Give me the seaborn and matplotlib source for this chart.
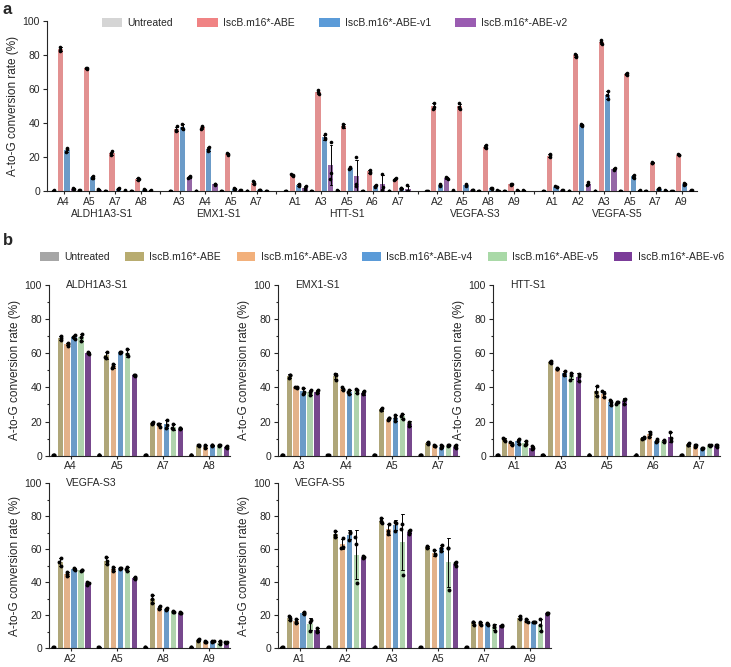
import numpy as np
import pandas as pd
import matplotlib
matplotlib.use("Agg")
import matplotlib.pyplot as plt
import matplotlib.ticker as ticker
import matplotlib.transforms as mtransforms
from matplotlib.patches import Patch
import seaborn as sns

# ---- data (3 replicates per bar) ----
GENES = ["ALDH1A3-S1", "EMX1-S1", "HTT-S1", "VEGFA-S3", "VEGFA-S5"]
SITES = [["A4", "A5", "A7", "A8"],
         ["A3", "A4", "A5", "A7"],
         ["A1", "A3", "A5", "A6", "A7"],
         ["A2", "A5", "A8", "A9"],
         ["A1", "A2", "A3", "A5", "A7", "A9"]]

A_GROUPS = ["Untreated", "IscB.m16*-ABE", "IscB.m16*-ABE-v1", "IscB.m16*-ABE-v2"]
A_COLORS = ["#d5d5d5", "#f08384", "#5b9bd8", "#9a5cb1"]

A_UNTREATED = [(0.3, 0.4, 0.5), (0.4, 0.5, 0.6), (0.2, 0.3, 0.4), (0.2, 0.3, 0.4),
               (0.2, 0.3, 0.4), (0.2, 0.3, 0.4), (0.2, 0.3, 0.4), (0.2, 0.3, 0.4),
               (0.2, 0.3, 0.4), (0.2, 0.3, 0.4), (0.3, 0.4, 0.5), (0.2, 0.3, 0.4), (0.2, 0.3, 0.4),
               (0.2, 0.3, 0.4), (0.3, 0.4, 0.5), (0.2, 0.3, 0.4), (0.2, 0.3, 0.4),
               (0.2, 0.3, 0.4), (0.2, 0.3, 0.4), (0.2, 0.3, 0.4), (0.2, 0.3, 0.4), (0.2, 0.3, 0.4), (0.2, 0.3, 0.4)]
A_ABE = [(82.5, 83, 84.5), (71.8, 72.2, 72.5), (21, 22.5, 23.5), (6.5, 7, 7.5),
         (35.5, 36, 38), (36.5, 37.5, 38.5), (21.5, 22, 22.5), (4.5, 5, 5.8),
         (8.8, 9.5, 10), (57, 58, 59.5), (37.5, 38, 39.5), (11, 11.5, 12.5), (6.5, 7, 7.8),
         (48.5, 49.5, 52), (48.5, 49.5, 51.5), (25.5, 26.2, 27), (3.9, 4.1, 4.3),
         (20, 21, 21.7), (79, 79.5, 80.5), (86.5, 87.5, 88.5), (68.3, 68.8, 69.3), (16.4, 16.8, 17.2), (21, 21.5, 22)]
A_V1 = [(23, 24.5, 25.5), (7.5, 8, 9), (1.3, 1.5, 1.7), (0.8, 1, 1.2),
        (36.5, 37, 39.5), (23.5, 24.5, 26), (1.3, 1.6, 1.9), (0.6, 0.8, 1),
        (3, 3.5, 4.3), (30.5, 31, 33.5), (13, 13.5, 14.5), (2.8, 3.2, 3.5), (1.5, 1.8, 2.2),
        (3.2, 3.7, 4.2), (3.2, 3.7, 4.3), (1.5, 1.8, 2.1), (0.3, 0.4, 0.5),
        (2.3, 2.7, 3.1), (38.5, 39, 39.5), (54, 56.5, 58.5), (8, 8.6, 9.5), (1.1, 1.4, 1.8), (3.8, 4.3, 5)]
A_V2 = [(1.3, 1.5, 1.7), (0.8, 1, 1.2), (0.3, 0.4, 0.5), (0.3, 0.4, 0.5),
        (7.5, 8.5, 9), (3.5, 4, 4.5), (0.4, 0.5, 0.6), (0.2, 0.3, 0.4),
        (0.8, 1.8, 3), (7.2, 10.5, 29), (3, 4, 20), (0.5, 2.5, 10), (0.2, 0.4, 3.6),
        (7, 7.5, 8.3), (0.6, 0.8, 1), (0.3, 0.4, 0.5), (0.3, 0.4, 0.5),
        (0.4, 0.6, 0.8), (3.5, 4.3, 5.3), (12.5, 13, 13.5), (0.3, 0.4, 0.5), (0.3, 0.4, 0.5), (0.4, 0.5, 0.6)]

B_GROUPS = ["Untreated", "IscB.m16*-ABE", "IscB.m16*-ABE-v3",
            "IscB.m16*-ABE-v4", "IscB.m16*-ABE-v5", "IscB.m16*-ABE-v6"]
B_COLORS = ["#a6a6a6", "#b8ac70", "#f2b07b", "#5b9bd8", "#a9d9a7", "#7b3c99"]

B_UNTREATED = [(0.2, 0.3, 0.4)] * 23
B_ABE = [(68, 69, 70), (57.5, 58, 61), (18.5, 19, 19.5), (5.5, 6, 6),
         (45.5, 47, 47.5), (44.5, 47, 48), (26.5, 27, 28), (7, 7.5, 8),
         (8.5, 9.5, 10.5), (54.5, 55, 55.5), (35, 37.5, 41), (10, 10.5, 11), (6, 6.5, 7.5),
         (50, 52.5, 54.5), (51, 53, 55), (27.5, 30, 32), (4, 5, 5.5),
         (17, 18, 19.5), (67.5, 68.5, 71), (76, 77, 79), (60.5, 61.5, 62), (14, 15.5, 15.5), (17.5, 18.5, 19.5)]
B_V3 = [(64.5, 65.5, 66), (51.5, 52.5, 54), (17, 18.5, 18.5), (4.5, 5.5, 6),
        (39.5, 40, 40.5), (38.5, 39, 40), (21, 22, 22), (5.5, 5.5, 6),
        (6.5, 7, 8), (50.5, 51, 51.5), (34.5, 36.5, 38), (11, 13, 14), (5, 6, 6.5),
        (44, 45, 46), (47, 48, 49), (23.5, 24.5, 25.5), (3.5, 3.5, 4),
        (15, 16, 17.5), (61, 61.5, 66.5), (69.5, 71, 75.5), (56.5, 57, 59.5), (14, 15, 15.5), (16, 16.5, 17.5)]
B_V4 = [(68.5, 69.5, 70.5), (60, 60.5, 61), (16.5, 18, 21), (5.5, 6, 6.5),
        (36, 37.5, 39.5), (36, 37.5, 38.5), (20.5, 22, 24), (4.5, 5.5, 6),
        (7, 8.5, 9.5), (47, 48, 49.5), (29.5, 31.5, 32.5), (8, 8.5, 9.5), (4, 4.5, 4.5),
        (47.5, 48, 48.5), (48, 48.5, 48.5), (23, 23.5, 24), (3.5, 4, 4.5),
        (20.5, 21.5, 22), (65.5, 70, 70.5), (71, 76, 76.5), (59, 60.5, 62.5), (14, 14.5, 15), (15.5, 15.5, 16)]
B_V5 = [(67, 69.5, 71.5), (58.5, 59.5, 62.5), (15.5, 16.5, 18.5), (5.5, 6, 6.5),
        (35.5, 37.5, 38.5), (36.5, 38.5, 39), (21.5, 23, 24.5), (5.5, 6, 6),
        (6.5, 7, 8.5), (44.5, 47, 48.5), (30.5, 31.5, 31.5), (8, 8.5, 9), (5.5, 6, 6),
        (47, 47.5, 47.5), (47, 48, 49), (22, 22, 22.5), (2.5, 3.5, 4),
        (10.5, 16, 17), (39.5, 63, 67.5), (44.5, 72.5, 75.5), (35, 60.5, 61), (10.5, 13, 14), (10.5, 14, 17.5)]
B_V6 = [(59.5, 60, 61), (46.5, 47, 47.5), (15.5, 16, 16), (4.5, 5, 5.5),
        (36.5, 37.5, 38.5), (36, 36.5, 38), (17.5, 19, 20), (4.5, 5.5, 6),
        (4, 4.5, 5.5), (43.5, 46.5, 48), (30, 32.5, 33.5), (8.5, 10.5, 14), (5, 6, 6.5),
        (38.5, 39.5, 40), (42, 42.5, 43), (21, 21.5, 22), (3, 3.5, 3.5),
        (10, 10.5, 12), (54.5, 55, 56), (69.5, 71, 71.5), (50, 51.5, 52), (13.5, 13.5, 14), (20.5, 21, 21.5)]

A_REPS = [A_UNTREATED, A_ABE, A_V1, A_V2]
B_REPS = [B_UNTREATED, B_ABE, B_V3, B_V4, B_V5, B_V6]

np.random.seed(2)
sns.set_style("ticks")
plt.rcParams["font.family"] = ["Liberation Sans", "DejaVu Sans"]
plt.rcParams["axes.linewidth"] = 0.8
plt.rcParams["xtick.major.width"] = 0.8
plt.rcParams["ytick.major.width"] = 0.8
plt.rcParams["xtick.minor.width"] = 0.8
plt.rcParams["ytick.minor.width"] = 0.8
plt.rcParams["xtick.major.size"] = 2.5
plt.rcParams["ytick.major.size"] = 3
plt.rcParams["xtick.minor.size"] = 2.5
plt.rcParams["ytick.minor.size"] = 1.8
plt.rcParams["xtick.major.pad"] = 1.5
plt.rcParams["ytick.major.pad"] = 2

fig = plt.figure(figsize=(7.31, 6.67), dpi=100)


def draw_bars(ax, df, groups, colors, dot):
    sns.barplot(data=df, x="pos", y="val", hue="group", hue_order=groups,
                palette=colors, native_scale=True, dodge=False, errorbar="sd",
                capsize=0.4, err_kws={"linewidth": 0.7, "color": "black"},
                width=0.8, linewidth=0, legend=False, ax=ax, orient="v")
    sns.stripplot(data=df, x="pos", y="val", native_scale=True, color="black",
                  size=dot, jitter=0.15, linewidth=0, ax=ax, orient="v", zorder=5)


# ---- panel a ----
rows, centers, labels, seps, gene_mid = [], [], [], [], []
pos, k = 0, 0
for g, sites in enumerate(SITES):
    start = pos
    for s in sites:
        for h, reps in enumerate(A_REPS):
            for v in reps[k]:
                rows.append((pos + h, A_GROUPS[h], v))
        centers.append(pos + 1.5)
        labels.append(s)
        pos += 4
        k += 1
    gene_mid.append((start + pos - 1) / 2)
    if g < len(SITES) - 1:
        seps.append(pos + 0.5)
        pos += 2
last = pos - 1
dfa = pd.DataFrame(rows, columns=["pos", "group", "val"])

axa = fig.add_axes([0.0643, 0.7132, 0.8887, 0.2558])
draw_bars(axa, dfa, A_GROUPS, A_COLORS, 2.6)
axa.set_xlim(-1.1, last + 0.85)
axa.set_ylim(0, 100)
axa.set_yticks(range(0, 101, 20))
axa.set_xticks(centers, labels)
axa.set_xticks(seps, minor=True)
axa.tick_params(labelsize=7.5)
axa.set_xlabel("")
axa.set_ylabel("A-to-G conversion rate (%)", fontsize=8.5, labelpad=3)
sns.despine(ax=axa)
trans = mtransforms.blended_transform_factory(axa.transData, axa.transAxes)
for gm, gene in zip(gene_mid, GENES):
    axa.text(gm, -0.135, gene, transform=trans, ha="center", va="center", fontsize=7.5)

fig.legend([Patch(facecolor=c, edgecolor="none") for c in A_COLORS], A_GROUPS,
           loc="center", bbox_to_anchor=(0.4576, 0.9655), ncol=4, frameon=False,
           fontsize=7.5, handlelength=2.0, handleheight=1.0, handletextpad=0.5,
           columnspacing=2.3)

# ---- panel b ----
PITCH = 6.98  # px per bar slot
lefts = [49, 278, 493, 49, 278]
bottoms = [0.3168, 0.3168, 0.3168, 0.0285, 0.0285]
heights = [0.2559, 0.2559, 0.2559, 0.2469, 0.2469]
k = 0
for g, sites in enumerate(SITES):
    rows = []
    for i, s in enumerate(sites):
        for h, reps in enumerate(B_REPS):
            for v in reps[k]:
                rows.append((i * 6.6 + h, B_GROUPS[h], v))
        k += 1
    dfb = pd.DataFrame(rows, columns=["pos", "group", "val"])
    n = len(sites)
    span = (n - 1) * 6.6 + 5 + 0.62 + 0.5
    ax = fig.add_axes([lefts[g] / 731, bottoms[g], span * PITCH / 731, heights[g]])
    draw_bars(ax, dfb, B_GROUPS, B_COLORS, 2.8)
    ax.set_xlim(-0.62, (n - 1) * 6.6 + 5.5)
    ax.set_ylim(0, 100)
    ax.set_yticks(range(0, 101, 20))
    ax.yaxis.set_minor_locator(ticker.MultipleLocator(10))
    ax.set_xticks([i * 6.6 + 2.5 for i in range(n)], sites)
    ax.tick_params(labelsize=7.5)
    ax.set_xlabel("")
    ax.set_ylabel("A-to-G conversion rate (%)", fontsize=8.5, labelpad=3)
    ax.annotate(GENES[g], xy=(0, 1), xycoords="axes fraction", xytext=(12, 0),
                textcoords="offset points", ha="left", va="center", fontsize=7.5)
    sns.despine(ax=ax)

fig.legend([Patch(facecolor=c, edgecolor="none") for c in B_COLORS], B_GROUPS,
           loc="center", bbox_to_anchor=(0.5226, 0.6147), ncol=6, frameon=False,
           fontsize=7.5, handlelength=1.8, handleheight=1.0, handletextpad=0.5,
           columnspacing=1.5)

fig.text(0.004, 0.997, "a", fontsize=12, fontweight="bold", va="top")
fig.text(0.004, 0.650, "b", fontsize=12, fontweight="bold", va="top")

fig.savefig("out.png", dpi=100)
